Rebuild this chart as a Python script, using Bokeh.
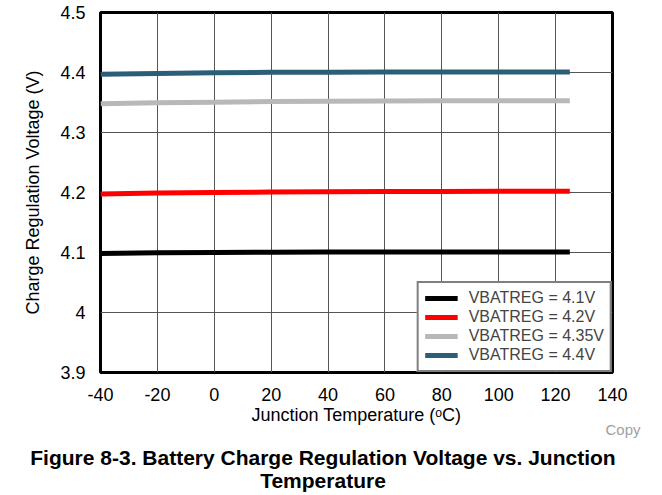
from bokeh.plotting import figure
from bokeh.models import (FixedTicker, CustomJSTickFormatter, Title, Div, Range1d)
from bokeh.layouts import column
from bokeh.embed import file_html
from bokeh.resources import INLINE

# ---- data ----
temps = [-40, -20, 0, 20, 40, 60, 80, 100, 125]
v_41 = [4.0985, 4.0995, 4.1000, 4.1005, 4.1008, 4.1010, 4.1010, 4.1010, 4.1010]
v_42 = [4.1975, 4.1990, 4.2000, 4.2008, 4.2012, 4.2015, 4.2018, 4.2020, 4.2020]
v_435 = [4.3480, 4.3495, 4.3505, 4.3515, 4.3520, 4.3525, 4.3528, 4.3530, 4.3530]
v_44 = [4.3970, 4.3985, 4.3995, 4.4003, 4.4006, 4.4008, 4.4008, 4.4008, 4.4008]
labels = ["VBATREG = 4.1V", "VBATREG = 4.2V", "VBATREG = 4.35V", "VBATREG = 4.4V"]
colors = ["#000000", "#FF0000", "#B8B8B8", "#2B5F78"]
x_ticks = [-40, -20, 0, 20, 40, 60, 80, 100, 120, 140]
y_ticks = [3.9, 4.0, 4.1, 4.2, 4.3, 4.4, 4.5]

FONT = "Liberation Sans"

p = figure(frame_width=512, frame_height=360, output_backend="svg", toolbar_location=None,
           x_range=Range1d(-40, 140), y_range=Range1d(3.9, 4.5),
           min_border_left=100, min_border_right=34, min_border_top=12, min_border_bottom=74)

for ys, lab, c in zip([v_41, v_42, v_435, v_44], labels, colors):
    p.line(temps, ys, line_color=c, line_width=5, legend_label=lab)

p.xaxis.ticker = FixedTicker(ticks=x_ticks)
p.yaxis.ticker = FixedTicker(ticks=y_ticks)
p.xaxis.formatter = CustomJSTickFormatter(code="return tick.toFixed(0);")
p.yaxis.formatter = CustomJSTickFormatter(code="return String(Math.round(tick*10)/10);")

for ax in (p.xaxis[0], p.yaxis[0]):
    ax.axis_line_color = None
    ax.major_tick_line_color = None
    ax.minor_tick_line_color = None
    ax.major_label_text_font = FONT
    ax.major_label_text_font_size = "18px"
    ax.major_label_text_color = "#000000"
    ax.axis_label_text_font = FONT
    ax.axis_label_text_font_size = "18px"
    ax.axis_label_text_font_style = "normal"
    ax.axis_label_text_color = "#000000"

p.xaxis.axis_label = "Junction Temperature (ᵒC)"
p.yaxis.axis_label = "Charge Regulation Voltage (V)"
p.xaxis.major_label_standoff = 9
p.yaxis.major_label_standoff = 9
p.xaxis.axis_label_standoff = 1
p.yaxis.axis_label_standoff = 14

p.xgrid.grid_line_color = "#555555"
p.ygrid.grid_line_color = "#555555"
p.xgrid.grid_line_width = 1
p.ygrid.grid_line_width = 1

p.outline_line_color = "#000000"
p.outline_line_width = 3
p.outline_line_alpha = 1.0

lg = p.legend[0]
lg.location = "bottom_right"
lg.margin = 0
lg.border_line_color = "#000000"
lg.border_line_width = 2
lg.label_text_font = FONT
lg.label_text_font_size = "16px"
lg.label_height = 18
lg.glyph_height = 18
lg.glyph_width = 33
lg.label_standoff = 11
lg.spacing = 1
lg.padding = 6
lg.background_fill_alpha = 1.0

copy = Title(text="Copy", align="right", text_color="#A0A0A0", text_font=FONT,
             text_font_size="15px", text_font_style="normal", standoff=-20, offset=-28)
p.add_layout(copy, "below")

cap = Div(text="<div style='text-align:center;font-family:\"Liberation Sans\",Arial,sans-serif;"
               "font-weight:bold;font-size:21px;line-height:23px;color:#000;width:646px;'>"
               "Figure 8-3. Battery Charge Regulation Voltage vs. Junction<br>Temperature</div>",
          width=646, margin=(0, 0, 0, 0))

layout = column(p, cap, spacing=0)
open("out.html", "w").write(file_html(layout, INLINE))
